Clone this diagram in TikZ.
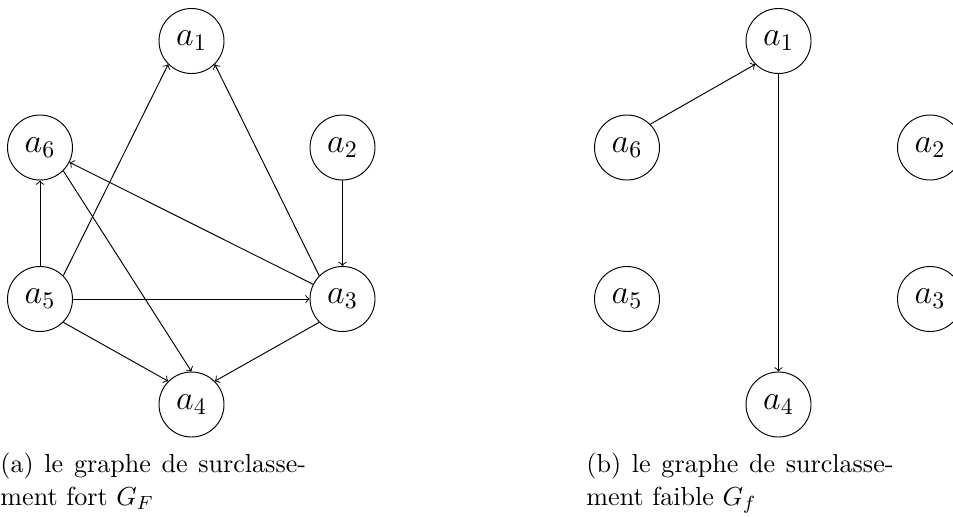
\documentclass[tikz,border=0pt]{standalone}
\begin{document}
\begin{tikzpicture}[x=0.42pt,y=-0.42pt,
  every node/.style={font=\fontsize{10.95}{13.6}\selectfont},
  vertex/.style={draw,circle,minimum size=27.3pt,inner sep=0pt,line width=0.4pt,
    font=\fontsize{14.4}{18}\selectfont},
  capline/.style={anchor=base west,inner sep=0pt},
  arc/.style={->,line width=0.4pt}]
\useasboundingbox (0,0) rectangle (953,516);
% (a)
\node[vertex] (A1) at (191.5,41) {$a_1$};
\node[vertex] (A6) at (40,147.5) {$a_6$};
\node[vertex] (A2) at (342.5,147.5) {$a_2$};
\node[vertex] (A5) at (40,299) {$a_5$};
\node[vertex] (A3) at (342.5,299) {$a_3$};
\node[vertex] (A4) at (191.5,404.5) {$a_4$};
\draw[arc] (A5) -- (A6);
\draw[arc] (A5.north east) -- (A1.south west);
\draw[arc] (A5) -- (A3);
\draw[arc] (A5.south east) -- (A4.north west);
\draw[arc] (A6.south east) -- (A4.north);
\draw[arc] (A3) -- (A6);
\draw[arc] (A3.north west) -- (A1.south east);
\draw[arc] (A2) -- (A3);
\draw[arc] (A3.south west) -- (A4.north east);
\node[capline] (capa1) at (0,472) {\spaceskip=4.5pt (a) le graphe de surclasse-};
\node[capline] (capa2) at (0,505) {ment fort $G_F$};
% (b)
\node[vertex] (B1) at (778.5,41) {$a_1$};
\node[vertex] (B6) at (627,147.5) {$a_6$};
\node[vertex] (B2) at (930,147.5) {$a_2$};
\node[vertex] (B5) at (627,299) {$a_5$};
\node[vertex] (B3) at (930,299) {$a_3$};
\node[vertex] (B4) at (778.5,404.5) {$a_4$};
\draw[arc] (B6.north east) -- (B1.south west);
\draw[arc] (B1) -- (B4);
\node[capline] (capb1) at (586,472) {\spaceskip=4.5pt (b) le graphe de surclasse-};
\node[capline] (capb2) at (586,505) {ment faible $G_f$};
\end{tikzpicture}
\end{document}
